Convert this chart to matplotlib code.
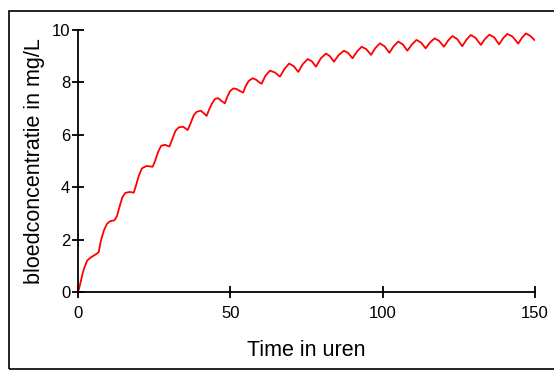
import matplotlib
matplotlib.use("Agg")
import matplotlib.pyplot as plt
from matplotlib.patches import Rectangle

# Time (hours) and blood concentration (mg/L)
time_h = [0, 0.5, 1, 1.5, 2, 2.5, 3, 4, 5, 6, 6.8,
          7.5, 8.5, 9.5, 10.5, 12, 12.8,
          13.5, 14.5, 15.5, 17, 18.3,
          19, 20, 21, 22.5, 24.5,
          25.3, 26.3, 27.3, 28.5, 30,
          31, 32, 33, 34.5, 36,
          37, 38, 39, 40.3, 41.3, 42.2,
          43, 44, 45, 46, 47, 48.2,
          49, 50, 51, 52, 53, 54.2,
          55, 56, 57.3, 58.5, 59.5, 60.3,
          61.5, 63, 64.6, 66.3,
          67.8, 69.3, 70.8, 72.3,
          73.8, 75.4, 76.8, 78.1,
          79.7, 81.4, 82.7, 84,
          85.6, 87.3, 88.7, 90.1,
          91.6, 93.1, 94.6, 96.2,
          97.6, 99.1, 100.6, 102.2,
          103.6, 105.1, 106.6, 108.1,
          109.6, 111.1, 112.6, 114.1,
          115.5, 117, 118.5, 120.1,
          121.5, 122.9, 124.5, 126.1,
          127.5, 128.9, 130.5, 132.2,
          133.6, 135, 136.6, 138.2,
          139.5, 140.9, 142.6, 144.5,
          145.7, 147, 148.4, 149.8]
conc = [0, 0.2, 0.45, 0.7, 0.9, 1.05, 1.2, 1.3, 1.38, 1.45, 1.52,
        1.95, 2.35, 2.6, 2.7, 2.74, 2.9,
        3.2, 3.6, 3.78, 3.82, 3.79,
        4.05, 4.45, 4.72, 4.81, 4.78,
        5.0, 5.35, 5.58, 5.62, 5.55,
        5.85, 6.15, 6.28, 6.31, 6.18,
        6.45, 6.75, 6.88, 6.92, 6.82, 6.72,
        6.95, 7.2, 7.37, 7.4, 7.3, 7.2,
        7.45, 7.68, 7.77, 7.75, 7.68, 7.61,
        7.85, 8.05, 8.16, 8.1, 8.0, 7.95,
        8.25, 8.45, 8.38, 8.22,
        8.52, 8.72, 8.62, 8.40,
        8.70, 8.89, 8.80, 8.60,
        8.92, 9.10, 9.00, 8.79,
        9.05, 9.21, 9.12, 8.92,
        9.18, 9.36, 9.27, 9.05,
        9.31, 9.49, 9.38, 9.13,
        9.38, 9.56, 9.45, 9.21,
        9.45, 9.62, 9.52, 9.30,
        9.52, 9.68, 9.59, 9.36,
        9.60, 9.77, 9.65, 9.38,
        9.63, 9.81, 9.70, 9.43,
        9.66, 9.82, 9.72, 9.45,
        9.68, 9.85, 9.75, 9.48,
        9.70, 9.87, 9.78, 9.62]

x_ticks = [0, 50, 100, 150]
y_ticks = [0, 2, 4, 6, 8, 10]

plt.rcParams['font.family'] = ['Liberation Sans', 'DejaVu Sans']

fig = plt.figure(figsize=(5.54, 3.71), dpi=100)
ax = fig.add_axes([78/554, 1-292/371, (535-78)/554, (292-30)/371])

ax.plot(time_h, conc, color='#ff0000', linewidth=1.3)
ax.set_xlim(0, 150)
ax.set_ylim(0, 10)
ax.set_xticks(x_ticks)
ax.set_yticks(y_ticks)
ax.spines['top'].set_visible(False)
ax.spines['right'].set_visible(False)
for s in ('left', 'bottom'):
    ax.spines[s].set_linewidth(1.3)
ax.tick_params(direction='inout', length=8, width=1.3, labelsize=12)
ax.tick_params(axis='x', pad=6)
ax.tick_params(axis='y', pad=1.5)
ax.set_xlabel('Time in uren', fontsize=15.5, labelpad=14)
ax.set_ylabel('bloedconcentratie in mg/L', fontsize=15.5, labelpad=5)

rect = Rectangle((9/554, 2/371), 1.0, (369-10.5)/371, transform=fig.transFigure,
                 fill=False, edgecolor='black', linewidth=1.2, clip_on=False)
fig.patches.append(rect)

fig.savefig('out.png', dpi=100)
